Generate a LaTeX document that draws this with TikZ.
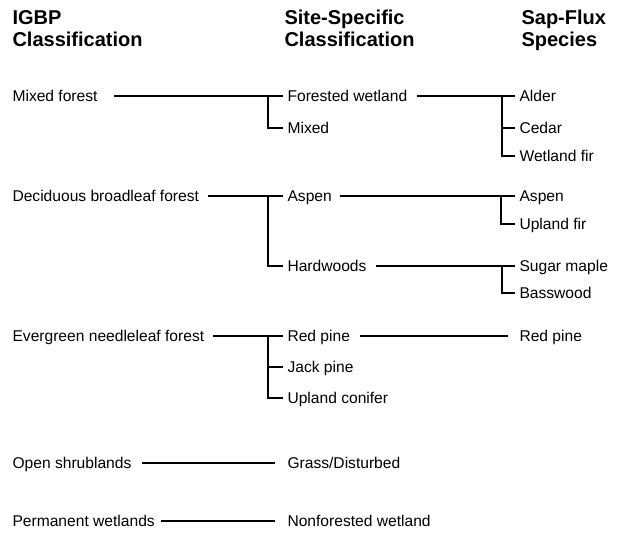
\documentclass[tikz,border=0pt]{standalone}
\usepackage{fontspec}
\setmainfont{Liberation Sans}
\usetikzlibrary{positioning,calc}

\begin{document}
\begin{tikzpicture}[x=1pt, y=-1pt, line width=1.1pt,
  lbl/.style={anchor=west, inner sep=0pt, text height=11pt, text depth=0pt, font=\fontsize{15.6}{18}\selectfont},
  hdr/.style={anchor=south west, inner sep=0pt, text depth=0pt, align=left, font=\fontsize{20}{22}\selectfont\bfseries},
  heavy/.style={line width=1.6pt}]
  \useasboundingbox (0,0) rectangle (619,533);

  % headings
  \node[hdr] (igbp) at (12,47) {IGBP\\Classification};
  \node[hdr] (site) at (284,47) {Site-Specific\\Classification};
  \node[hdr] (sap) at (521,47) {Sap-Flux\\Species};

  % IGBP classes
  \node[lbl] (mf) at (12,96) {Mixed forest};
  \node[lbl] (dbf) at (12,196) {Deciduous broadleaf forest};
  \node[lbl] (enf) at (12,336) {Evergreen needleleaf forest};
  \node[lbl] (osh) at (12,463) {Open shrublands};
  \node[lbl] (pwl) at (12,521) {Permanent wetlands};

  % site-specific classes
  \node[lbl] (fw) at (287,96) {Forested wetland};
  \node[lbl] (mx) at (287,128) {Mixed};
  \node[lbl] (asp) at (287,196) {Aspen};
  \node[lbl] (hw) at (287,266) {Hardwoods};
  \node[lbl] (rp) at (287,336) {Red pine};
  \node[lbl] (jp) at (287,367) {Jack pine};
  \node[lbl] (uc) at (287,398) {Upland conifer};
  \node[lbl] (gd) at (287,463) {Grass/Disturbed};
  \node[lbl] (nfw) at (287,521) {Nonforested wetland};

  % sap-flux species
  \node[lbl] (ald) at (519,96) {Alder};
  \node[lbl] (ced) at (519,128) {Cedar};
  \node[lbl] (wfir) at (519,156) {Wetland fir};
  \node[lbl] (asp2) at (519,196) {Aspen};
  \node[lbl] (ufir) at (519,224) {Upland fir};
  \node[lbl] (smap) at (519,266) {Sugar maple};
  \node[lbl] (bw) at (519,293) {Basswood};
  \node[lbl] (rp2) at (519,336) {Red pine};

  % branch points
  \coordinate (b1) at ([xshift=-19pt]fw.west);
  \coordinate (b2) at ([xshift=-19pt]asp.west);
  \coordinate (b3) at ([xshift=-19pt]rp.west);
  \coordinate (c1) at ([xshift=-17pt]ald.west);
  \coordinate (c2) at ([xshift=-18pt]asp2.west);
  \coordinate (c3) at ([xshift=-17pt]smap.west);
  \coordinate (k1) at ([xshift=-69pt]ald.west);

  % IGBP -> site-specific
  \draw ([xshift=16pt]mf.east) -- ([xshift=-4pt]fw.west);
  \draw (b1) |- ([xshift=-4pt]mx.west);
  \draw ([xshift=8pt]dbf.east) -- ([xshift=-4pt]asp.west);
  \draw (b2) |- ([xshift=-4pt]hw.west);
  \draw ([xshift=8pt]enf.east) -- ([xshift=-4pt]rp.west);
  \draw (b3) |- ([xshift=-4pt]jp.west);
  \draw (b3) |- ([xshift=-4pt]uc.west);
  \draw ([xshift=10pt]osh.east) -- ([xshift=-12pt]gd.west);
  \draw ([xshift=6pt]pwl.east) -- ([xshift=-12pt]nfw.west);

  % site-specific -> sap-flux
  \draw ([xshift=9pt]fw.east) -- (k1);
  \draw[heavy] (k1) -- ([xshift=-4pt]ald.west);
  \draw (c1) |- ([xshift=-4pt]ced.west);
  \draw (c1) |- ([xshift=-4pt]wfir.west);
  \draw ([xshift=8pt]asp.east) -- ([xshift=-4pt]asp2.west);
  \draw (c2) |- ([xshift=-4pt]ufir.west);
  \draw[heavy] ([xshift=9pt]hw.east) -- ([xshift=-4pt]smap.west);
  \draw (c3) |- ([xshift=-4pt]bw.west);
  \draw[heavy] ([xshift=9pt]rp.east) -- ([xshift=-11pt]rp2.west);
\end{tikzpicture}
\end{document}
